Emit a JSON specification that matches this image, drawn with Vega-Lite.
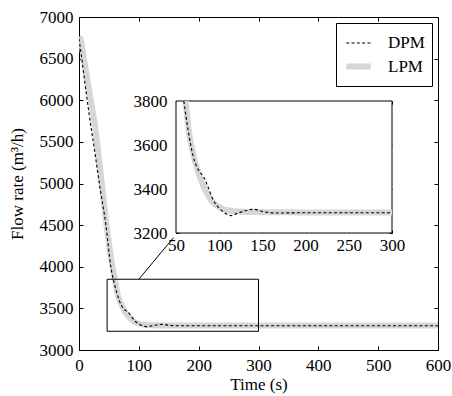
{
  "$schema": "https://vega.github.io/schema/vega-lite/v6.json",
  "width": 359,
  "height": 333,
  "autosize": "none",
  "padding": {"left": 79, "top": 17, "right": 14, "bottom": 46},
  "background": "white",
  "config": {
    "view": {"stroke": "black", "strokeWidth": 1},
    "font": "Liberation Serif",
    "axis": {
      "labelFont": "Liberation Serif",
      "titleFont": "Liberation Serif",
      "labelFontSize": 17,
      "titleFontSize": 17,
      "titleFontWeight": "normal",
      "labelColor": "black",
      "titleColor": "black",
      "tickColor": "black",
      "domain": false,
      "grid": false,
      "labelFlush": false,
      "labelOverlap": false,
      "format": "d"
    },
    "legend": {
      "labelFont": "Liberation Serif",
      "labelFontSize": 17,
      "labelColor": "black"
    }
  },
  "datasets": {
    "curves": [
      {"series": "LPM", "t": 0, "v": 6760},
      {"series": "LPM", "t": 3, "v": 6720},
      {"series": "LPM", "t": 8, "v": 6500},
      {"series": "LPM", "t": 15, "v": 6200},
      {"series": "LPM", "t": 22, "v": 5900},
      {"series": "LPM", "t": 27, "v": 5680},
      {"series": "LPM", "t": 32, "v": 5380},
      {"series": "LPM", "t": 38, "v": 5000},
      {"series": "LPM", "t": 46, "v": 4500},
      {"series": "LPM", "t": 51, "v": 4230},
      {"series": "LPM", "t": 56, "v": 4000},
      {"series": "LPM", "t": 61, "v": 3800},
      {"series": "LPM", "t": 65, "v": 3660},
      {"series": "LPM", "t": 70, "v": 3560},
      {"series": "LPM", "t": 75, "v": 3485},
      {"series": "LPM", "t": 82, "v": 3410},
      {"series": "LPM", "t": 89, "v": 3358},
      {"series": "LPM", "t": 99, "v": 3320},
      {"series": "LPM", "t": 112, "v": 3302},
      {"series": "LPM", "t": 132, "v": 3296},
      {"series": "LPM", "t": 170, "v": 3294},
      {"series": "LPM", "t": 300, "v": 3293},
      {"series": "LPM", "t": 600, "v": 3293},
      {"series": "DPM", "t": 0, "v": 6740},
      {"series": "DPM", "t": 5, "v": 6480},
      {"series": "DPM", "t": 10, "v": 6200},
      {"series": "DPM", "t": 17, "v": 5830},
      {"series": "DPM", "t": 27, "v": 5350},
      {"series": "DPM", "t": 34, "v": 5000},
      {"series": "DPM", "t": 45, "v": 4500},
      {"series": "DPM", "t": 53, "v": 4010},
      {"series": "DPM", "t": 59, "v": 3800},
      {"series": "DPM", "t": 64, "v": 3668},
      {"series": "DPM", "t": 70, "v": 3547},
      {"series": "DPM", "t": 76, "v": 3486},
      {"series": "DPM", "t": 82, "v": 3455},
      {"series": "DPM", "t": 87, "v": 3410},
      {"series": "DPM", "t": 93, "v": 3350},
      {"series": "DPM", "t": 99, "v": 3317},
      {"series": "DPM", "t": 107, "v": 3290},
      {"series": "DPM", "t": 114, "v": 3279},
      {"series": "DPM", "t": 120, "v": 3288},
      {"series": "DPM", "t": 130, "v": 3301},
      {"series": "DPM", "t": 139, "v": 3308},
      {"series": "DPM", "t": 151, "v": 3297},
      {"series": "DPM", "t": 166, "v": 3291},
      {"series": "DPM", "t": 200, "v": 3292},
      {"series": "DPM", "t": 300, "v": 3292},
      {"series": "DPM", "t": 600, "v": 3292}
    ],
    "zoombox": [{"t0": 47, "t1": 300, "v0": 3225, "v1": 3850}],
    "connector": [{"t0": 100, "v0": 3850, "t1": 158, "v1": 4350}],
    "insetframe": [{"t0": 50, "t1": 300, "v0": 3200, "v1": 3800}]
  },
  "resolve": {"scale": {"x": "independent", "y": "independent"}},
  "layer": [
    {
      "data": {"name": "curves"},
      "mark": {"type": "line", "interpolate": "monotone", "clip": true},
      "encoding": {
        "x": {
          "field": "t", "type": "quantitative",
          "scale": {"domain": [0, 600], "nice": false, "zero": false},
          "axis": {"orient": "bottom", "title": "Time (s)", "format": "d", "values": [0, 100, 200, 300, 400, 500, 600], "tickSize": -4, "labelPadding": 11, "titlePadding": 3}
        },
        "y": {
          "field": "v", "type": "quantitative",
          "scale": {"domain": [3000, 7000], "nice": false, "zero": false},
          "axis": {"orient": "left", "title": "Flow rate (m³/h)", "format": "d", "values": [3000, 3500, 4000, 4500, 5000, 5500, 6000, 6500, 7000], "tickSize": -4, "labelPadding": 10, "titlePadding": 13}
        },
        "color": {
          "field": "series", "type": "nominal",
          "scale": {"domain": ["DPM", "LPM"], "range": ["black", "#d6d6d6"]},
          "legend": {
            "orient": "top-right", "offset": 6, "title": null,
            "strokeColor": "black", "fillColor": "white", "padding": 7,
            "symbolType": "stroke", "symbolSize": 600, "labelOffset": 14, "rowPadding": 0
          }
        },
        "strokeDash": {
          "field": "series", "type": "nominal",
          "scale": {"domain": ["DPM", "LPM"], "range": [[3, 2.3], [1, 0]]}
        },
        "strokeWidth": {
          "field": "series", "type": "nominal",
          "scale": {"domain": ["DPM", "LPM"], "range": [1.1, 6]}
        }
      }
    },
    {
      "data": {"name": "zoombox"},
      "mark": {"type": "rect", "fillOpacity": 0, "stroke": "black", "strokeWidth": 1},
      "encoding": {
        "x": {
          "field": "t0", "type": "quantitative",
          "scale": {"domain": [0, 600], "nice": false, "zero": false},
          "axis": {"orient": "top", "title": null, "labels": false, "values": [0, 100, 200, 300, 400, 500, 600], "tickSize": -4}
        },
        "x2": {"field": "t1"},
        "y": {
          "field": "v0", "type": "quantitative",
          "scale": {"domain": [3000, 7000], "nice": false, "zero": false},
          "axis": {"orient": "right", "title": null, "labels": false, "values": [3000, 3500, 4000, 4500, 5000, 5500, 6000, 6500, 7000], "tickSize": -4}
        },
        "y2": {"field": "v1"}
      }
    },
    {
      "data": {"name": "connector"},
      "mark": {"type": "rule", "color": "black", "strokeWidth": 1},
      "encoding": {
        "x": {"field": "t0", "type": "quantitative", "scale": {"domain": [0, 600], "nice": false, "zero": false}, "axis": null},
        "x2": {"field": "t1"},
        "y": {"field": "v0", "type": "quantitative", "scale": {"domain": [3000, 7000], "nice": false, "zero": false}, "axis": null},
        "y2": {"field": "v1"}
      }
    },
    {
      "data": {"name": "insetframe"},
      "mark": {"type": "rect", "fill": "white", "stroke": "black", "strokeWidth": 1},
      "encoding": {
        "x": {
          "field": "t0", "type": "quantitative",
          "scale": {"domain": [50, 300], "range": [97, 313], "nice": false, "zero": false},
          "axis": {"orient": "top", "offset": -84, "title": null, "labels": false, "values": [50, 100, 150, 200, 250, 300], "tickSize": -3}
        },
        "x2": {"field": "t1"},
        "y": {
          "field": "v0", "type": "quantitative",
          "scale": {"domain": [3200, 3800], "range": [216, 84], "nice": false, "zero": false},
          "axis": {"orient": "right", "offset": -46, "title": null, "labels": false, "values": [3200, 3400, 3600, 3800], "tickSize": -3}
        },
        "y2": {"field": "v1"}
      }
    },
    {
      "data": {"name": "curves"},
      "transform": [{"filter": "datum.v <= 3800 && datum.t <= 300"}],
      "mark": {"type": "line", "interpolate": "monotone"},
      "encoding": {
        "x": {
          "field": "t", "type": "quantitative",
          "scale": {"domain": [50, 300], "range": [97, 313], "nice": false, "zero": false},
          "axis": {"orient": "bottom", "offset": -117, "title": null, "format": "d", "values": [50, 100, 150, 200, 250, 300], "tickSize": -3, "labelPadding": 7}
        },
        "y": {
          "field": "v", "type": "quantitative",
          "scale": {"domain": [3200, 3800], "range": [216, 84], "nice": false, "zero": false},
          "axis": {"orient": "left", "offset": -97, "title": null, "format": "d", "values": [3200, 3400, 3600, 3800], "tickSize": -3, "labelPadding": 12}
        },
        "color": {"field": "series", "type": "nominal", "scale": {"domain": ["DPM", "LPM"], "range": ["black", "#d6d6d6"]}, "legend": null},
        "strokeDash": {"field": "series", "type": "nominal", "scale": {"domain": ["DPM", "LPM"], "range": [[3, 2.3], [1, 0]]}, "legend": null},
        "strokeWidth": {"field": "series", "type": "nominal", "scale": {"domain": ["DPM", "LPM"], "range": [1.1, 6]}, "legend": null}
      }
    }
  ]
}
